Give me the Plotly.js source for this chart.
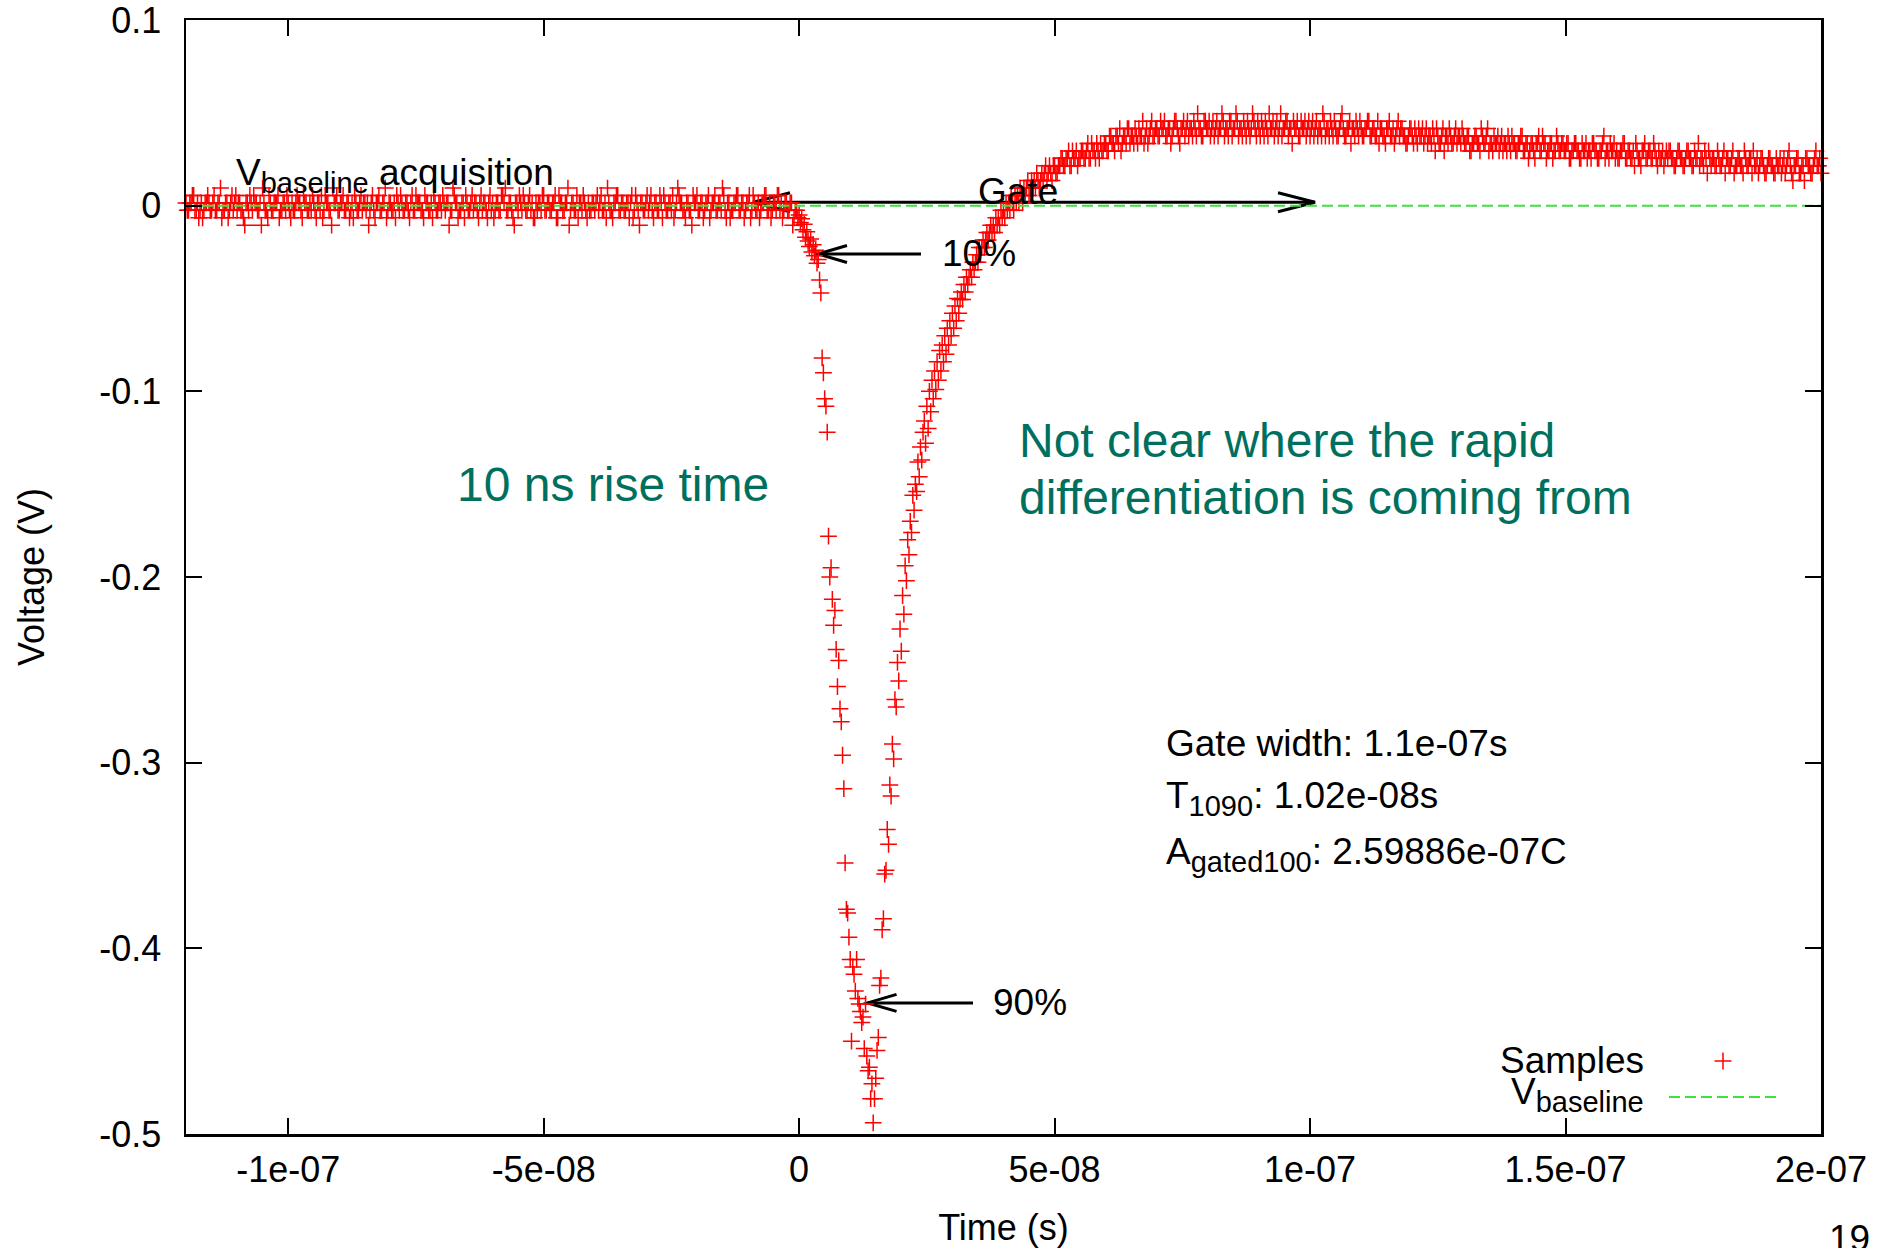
<!DOCTYPE html>
<html><head><meta charset="utf-8">
<script src="https://cdn.plot.ly/plotly-3.0.1.min.js"></script>
<style>html,body{margin:0;padding:0;background:#fff;}#chart{width:1894px;height:1248px;}</style>
</head><body><div id="chart"></div>
<script>
// ---- acquisition timing (seconds) ----
const preStart = -1.2e-7, preOddStart = -1.1975e-7, preStep = 5e-10;   // -120 ns ... -0.25 ns
const pulseStart = 0, pulseStep = 2.5e-10;                             // 0 ns ... 49.75 ns
const postStart = 5e-8, postOddStart = 5.025e-8, postStep = 5e-10;    // 50 ns ... 200 ns

// ---- samples (V) ----
const samplesPre = [
.0015,-.0025,.0015,.0055,-.0025,-.0065,.0015,-.0025,.0015,.0015,-.0025,.0055,-.0025,.0015,-.0065,-.0025,.0015,-.0025,.0055,.0015,
-.0025,.0015,-.0025,-.0105,.0015,.0055,-.0025,.0015,-.0025,.0015,.0095,-.0025,-.0065,.0015,-.0025,.0015,.0055,-.0025,.0015,-.0025,
.0015,-.0065,-.0025,.0015,.0015,-.0025,.0055,.0015,-.0025,-.0025,.0015,-.0065,.0015,.0055,-.0025,.0015,-.0025,-.0105,.0015,.0055,
-.0025,.0015,-.0025,.0015,-.0065,.0015,.0055,-.0025,.0015,-.0025,.0015,.0015,-.0025,.0055,-.0065,.0015,-.0025,.0015,.0095,-.0025,
.0015,-.0025,-.0065,.0015,.0055,-.0025,.0015,-.0025,.0015,-.0025,.0055,.0015,-.0025,-.0065,.0015,-.0025,.0015,.0055,-.0025,.0015,
-.0025,.0015,.0015,-.0105,-.0025,.0055,.0015,-.0025,.0015,-.0065,.0015,-.0025,.0055,.0015,-.0025,.0015,-.0025,.0015,-.0065,.0055,
.0015,-.0025,.0015,-.0025,.0055,.0095,-.0025,.0015,-.0065,.0015,-.0025,.0015,.0055,-.0025,.0015,-.0025,-.0065,.0015,.0015,-.0025,
.0055,-.0025,.0015,-.0025,.0015,-.0065,.0055,.0015,-.0025,.0015,-.0105,.0015,-.0025,.0055,.0015,-.0025,.0015,-.0065,-.0025,.0015,
-.0025,.0055,.0015,-.0025,.0015,.0095,-.0025,-.0065,.0015,.0055,-.0025,.0015,-.0025,.0015,.0015,-.0065,.0055,-.0025,.0015,-.0025,
.0015,-.0025,.0055,-.0065,.0015,-.0025,.0015,.0055,-.0025,.0015,-.0025,-.0065,.0015,.0055,.0015,-.0025,.0015,-.0025,-.0105,.0015,
.0055,-.0025,.0015,-.0025,.0015,-.0065,.0015,.0055,-.0025,.0015,.0095,-.0025,.0015,-.0065,-.0025,.0015,.0055,-.0025,.0015,-.0025,
.0015,-.0065,.0055,-.0025,.0015,-.0025,.0015,.0055,-.0025,-.0065,.0015,-.0025,.0055,.0015,-.0025,.0015,-.0025,.0015,-.0065,-.0025
];
const samplesPreOdd = [
-.0025,.0015,.0055,-.0025,.0015,-.0025,-.0065,.0015,.0055,-.0025,.0015,-.0025,.0015,.0095,-.0025,.0015,-.0065,.0015,-.0025,.0055,
.0015,-.0025,-.0065,.0015,-.0025,.0015,.0055,.0015,-.0025,-.0105,.0015,-.0025,.0055,-.0025,.0015,.0015,-.0065,-.0025,.0015,.0055,
-.0025,.0015,-.0025,.0055,.0015,-.0065,.0015,-.0025,.0015,.0055,-.0025,.0015,-.0025,-.0065,.0055,.0015,-.0025,.0095,.0015,-.0025,
.0015,.0055,-.0025,.0015,-.0025,-.0065,.0015,-.0025,.0055,.0015,-.0025,-.0105,.0015,-.0025,.0015,.0055,-.0025,.0015,-.0065,.0015,
-.0025,.0015,.0055,-.0025,.0015,-.0025,.0015,-.0065,.0055,-.0025,.0015,.0015,-.0025,.0055,.0015,-.0025,-.0065,.0015,-.0025,.0015,
.0055,-.0025,.0015,-.0025,.0095,.0015,-.0065,-.0025,.0015,.0055,-.0025,.0015,-.0025,.0015,-.0065,.0055,.0015,-.0025,.0015,-.0025,
-.0065,.0015,-.0025,.0055,.0015,-.0025,.0015,-.0025,-.0105,.0015,.0055,-.0025,.0015,-.0025,.0055,.0015,-.0065,-.0025,.0015,.0055,
-.0025,.0015,-.0025,.0015,.0055,-.0065,.0015,-.0025,.0015,.0095,-.0025,.0015,-.0025,-.0065,.0015,.0055,-.0025,.0015,-.0025,.0015,
.0015,-.0025,.0055,-.0025,-.0065,.0015,-.0025,.0015,.0055,-.0025,.0015,-.0025,.0015,-.0065,.0055,-.0025,.0015,-.0105,.0015,-.0025,
.0055,.0015,-.0025,.0015,-.0025,.0055,-.0065,.0015,-.0025,.0015,.0055,-.0025,.0095,.0015,-.0025,-.0065,.0015,-.0025,.0055,.0015,
-.0025,.0015,-.0065,.0015,.0055,-.0025,.0015,-.0025,.0015,-.0025,.0055,-.0065,.0015,-.0025,.0015,.0055,-.0025,.0015,-.0065,.0015,
.0055,-.0025,.0015,-.0025,-.0065,.0015,.0055,-.0025,.0015,-.0025,.0015,.0055,-.0025,-.0065,.0015,-.0025,.0015,-.0105,-.0025,-.0065
];
const samplesPulse = [
-.005,-.009,-.007,-.013,-.010,-.017,-.014,-.019,-.022,-.018,-.025,-.021,-.027,-.024,-.031,-.029,-.040,-.047,
-.082,-.090,-.104,-.108,-.122,
-.178,-.200,-.195,-.212,-.226,-.218,-.239,-.259,-.245,-.271,-.278,-.296,
-.314,-.354,-.379,
-.381,-.394,-.406,-.450,-.410,-.414,-.423,-.406,-.427,-.430,-.434,-.440,-.437,-.454,-.430,-.458,-.466,-.464,-.481,-.473,
-.494,-.481,-.470,-.455,
-.448,-.420,-.416,-.390,-.384,-.360,-.358,-.336,-.344,-.312,-.318,-.290,-.298,-.266,-.270,-.246,-.256,-.228,
-.240,-.210,-.220,-.194,-.202,-.180,-.188,-.170,-.176,-.156,-.164,-.150,-.154,-.138,-.146,-.130,-.137,-.122,
-.116,-.128,-.108,-.120,-.100,-.111,-.094,-.104,-.089,-.099,-.084,-.094,-.078,-.089,-.075,-.084,-.070,-.080,-.066,-.075,
-.062,-.070,-.058,-.066,-.054,-.062,-.050,-.058,
-.0505,-.0465,-.0505,-.0425,-.0465,-.0385,-.0425,-.0385,-.0345,-.0385,
-.0305,-.0345,-.0305,-.0265,-.0305,-.0225,-.0265,-.0225,-.0185,-.0225,
-.0185,-.0145,-.0185,-.0145,-.0105,-.0145,-.0105,-.0145,-.0065,-.0105,
-.0065,-.0105,-.0025,-.0065,-.0025,-.0065,.0015,-.0025,.0015,-.0025,
.0055,.0015,-.0025,.0055,.0015,.0055,.0015,.0095,.0055,.0015,
.0095,.0055,.0095,.0135,.0055,.0095,.0135,.0095,.0135,.0095,
.0175,.0135,.0095,.0135,.0175,.0135,.0175,.0215,.0135,.0175,
.0215,.0175,.0135,.0215
];
const samplesPost = [
.0215,.0175,.0215,.0255,.0215,.0255,.0215,.0295,.0255,.0215,.0255,.0295,.0255,.0335,.0255,.0295,.0255,.0295,.0335,.0295,
.0335,.0295,.0375,.0335,.0375,.0335,.0295,.0375,.0335,.0415,.0375,.0335,.0375,.0415,.0375,.0335,.0415,.0375,.0455,.0375,
.0415,.0375,.0415,.0455,.0375,.0415,.0375,.0455,.0415,.0335,.0415,.0375,.0455,.0415,.0375,.0415,.0495,.0415,.0375,.0455,
.0415,.0375,.0455,.0415,.0375,.0415,.0455,.0415,.0375,.0455,.0415,.0495,.0375,.0415,.0455,.0375,.0415,.0415,.0455,.0375,
.0415,.0455,.0375,.0415,.0495,.0415,.0375,.0455,.0415,.0375,.0415,.0455,.0415,.0335,.0415,.0455,.0375,.0415,.0455,.0415,
.0375,.0455,.0415,.0375,.0415,.0495,.0375,.0415,.0455,.0375,.0415,.0375,.0455,.0415,.0375,.0415,.0335,.0415,.0455,.0375,
.0415,.0375,.0415,.0455,.0375,.0415,.0375,.0335,.0415,.0375,.0415,.0455,.0375,.0335,.0415,.0375,.0415,.0375,.0335,.0415,
.0375,.0415,.0335,.0375,.0415,.0375,.0335,.0375,.0415,.0295,.0375,.0335,.0415,.0375,.0335,.0375,.0335,.0415,.0375,.0335,
.0375,.0335,.0375,.0295,.0335,.0375,.0335,.0415,.0335,.0375,.0295,.0335,.0375,.0335,.0295,.0375,.0335,.0295,.0335,.0375,
.0335,.0295,.0335,.0375,.0295,.0335,.0295,.0335,.0255,.0335,.0295,.0375,.0335,.0295,.0335,.0255,.0295,.0335,.0295,.0335,
.0295,.0335,.0255,.0295,.0335,.0295,.0255,.0295,.0335,.0295,.0255,.0335,.0295,.0255,.0295,.0375,.0295,.0255,.0295,.0335,
.0295,.0255,.0295,.0335,.0255,.0295,.0255,.0215,.0295,.0255,.0295,.0335,.0255,.0295,.0255,.0295,.0215,.0255,.0295,.0255,
.0255,.0295,.0255,.0215,.0295,.0255,.0215,.0255,.0295,.0255,.0215,.0255,.0335,.0255,.0215,.0255,.0295,.0215,.0255,.0215,
.0255,.0215,.0295,.0255,.0215,.0255,.0175,.0215,.0255,.0215,.0295,.0215,.0255,.0175,.0215,.0255,.0215,.0255,.0175,.0215,
.0255,.0215,.0175,.0215,.0255,.0215,.0175,.0255,.0215,.0135,.0215,.0255,.0175,.0215,.0255,.0215,.0175,.0215,.0295,.0215,
.0175
];
const samplesPostOdd = [
.0175,.0215,.0255,.0215,.0255,.0295,.0215,.0255,.0295,.0255,.0295,.0255,.0295,.0255,.0335,.0295,.0335,.0255,.0295,.0335,
.0295,.0375,.0335,.0295,.0375,.0415,.0335,.0375,.0415,.0335,.0375,.0415,.0335,.0375,.0455,.0375,.0335,.0415,.0375,.0415,
.0375,.0455,.0415,.0375,.0415,.0335,.0415,.0455,.0375,.0415,.0455,.0415,.0375,.0415,.0455,.0375,.0415,.0375,.0455,.0415,
.0455,.0415,.0375,.0455,.0415,.0495,.0375,.0415,.0455,.0375,.0415,.0455,.0415,.0375,.0415,.0455,.0375,.0495,.0415,.0455,
.0375,.0415,.0455,.0375,.0415,.0455,.0415,.0375,.0495,.0415,.0455,.0375,.0415,.0455,.0415,.0375,.0455,.0415,.0375,.0455,
.0415,.0375,.0455,.0415,.0375,.0455,.0415,.0375,.0415,.0455,.0375,.0415,.0495,.0375,.0415,.0455,.0415,.0375,.0415,.0455,
.0375,.0415,.0455,.0375,.0415,.0375,.0455,.0415,.0375,.0335,.0415,.0375,.0415,.0375,.0455,.0415,.0375,.0335,.0375,.0415,
.0335,.0375,.0415,.0375,.0335,.0415,.0375,.0335,.0375,.0415,.0335,.0375,.0295,.0375,.0415,.0335,.0375,.0335,.0375,.0415,
.0335,.0375,.0295,.0335,.0375,.0335,.0295,.0375,.0335,.0415,.0335,.0295,.0335,.0375,.0335,.0295,.0335,.0375,.0295,.0335,
.0295,.0335,.0375,.0295,.0335,.0255,.0335,.0295,.0335,.0375,.0295,.0335,.0255,.0295,.0335,.0295,.0375,.0295,.0335,.0295,
.0335,.0255,.0295,.0335,.0295,.0255,.0335,.0295,.0255,.0295,.0335,.0295,.0255,.0295,.0335,.0255,.0295,.0335,.0295,.0255,
.0255,.0295,.0335,.0255,.0295,.0255,.0295,.0335,.0255,.0215,.0295,.0255,.0295,.0255,.0335,.0255,.0295,.0255,.0215,.0295,
.0295,.0255,.0215,.0255,.0295,.0255,.0215,.0295,.0255,.0215,.0295,.0255,.0215,.0255,.0295,.0175,.0255,.0255,.0215,.0295,
.0215,.0255,.0175,.0255,.0215,.0295,.0215,.0255,.0215,.0175,.0255,.0215,.0255,.0295,.0215,.0175,.0255,.0215,.0175,.0255,
.0215,.0175,.0255,.0215,.0175,.0255,.0215,.0295,.0175,.0215,.0255,.0175,.0215,.0135,.0255,.0215,.0175,.0255,.0215,.0255
];

// ---- baseline ----
const baselineTime = [-1.2e-7, 2e-7];
const baselineVolt = [0, 0];

// ---- ticks ----
const xTickVals = [-1e-7, -5e-8, 0, 5e-8, 1e-7, 1.5e-7, 2e-7];
const xTickText = ['-1e-07', '-5e-08', '0', '5e-08', '1e-07', '1.5e-07', '2e-07'];
const yTickVals = [0.1, 0, -0.1, -0.2, -0.3, -0.4, -0.5];
const yTickText = ['0.1', '0', '-0.1', '-0.2', '-0.3', '-0.4', '-0.5'];

// ---- annotation values ----
const gateEnd = 1.0097e-7, gateWidth = 1.1e-7, gateLevel = 0.0018;
const t10 = 3.69e-9, v10 = -0.026, t10tail = 2.385e-8;
const t90 = 1.339e-8, v90 = -0.4294, t90tail = 3.403e-8;
const SUB = s => `<sub><span style="font-size:29px">${s}</span></sub>`;
const statLines = ['Gate width: 1.1e-07s', 'T' + SUB('1090') + ': 1.02e-08s', 'A' + SUB('gated100') + ': 2.59886e-07C'];
const statV = [-0.2897, -0.3193, -0.3495];

const FONT = 'Liberation Sans, Arial, Helvetica, sans-serif';
const RED = '#ff0000', GREEN = '#40e040', TEAL = '#00705e';

const markerStyle = {symbol: 'cross-thin', size: 12, color: RED, line: {color: RED, width: 1.5}};
function sampleTrace(y, x0, dx) {
  return {type: 'scatter', mode: 'markers', y: y, x0: x0, dx: dx, marker: markerStyle,
          cliponaxis: false, hoverinfo: 'skip', showlegend: false};
}
const traces = [
  sampleTrace(samplesPre, preStart, preStep),
  sampleTrace(samplesPreOdd, preOddStart, preStep),
  sampleTrace(samplesPulse, pulseStart, pulseStep),
  sampleTrace(samplesPost, postStart, postStep),
  sampleTrace(samplesPostOdd, postOddStart, postStep),
  {type: 'scatter', mode: 'lines', x: baselineTime, y: baselineVolt,
   line: {color: GREEN, width: 2, dash: '11px,5px'}, hoverinfo: 'skip', showlegend: false}
];

function head(t, v, dir, len, half) {
  const L = dir * len;
  return {type: 'path', xref: 'x', yref: 'y', xsizemode: 'pixel', ysizemode: 'pixel',
          xanchor: t, yanchor: v, path: `M${L},${half}L0,0L${L},${-half}`,
          line: {color: '#000', width: 3}, fillcolor: 'rgba(0,0,0,0)', layer: 'below'};
}
function shaft(t0, t1, v) {
  return {type: 'line', xref: 'x', yref: 'y', x0: t0, x1: t1, y0: v, y1: v,
          line: {color: '#000', width: 3}, layer: 'below'};
}
const gateStart = gateEnd - gateWidth;
const shapes = [
  shaft(gateStart, gateEnd, gateLevel), head(gateEnd, gateLevel, -1, 37, 9.5), head(gateStart, gateLevel, 1, 37, 9.5),
  shaft(t10tail, t10, v10), head(t10, v10, 1, 29, 8.5),
  shaft(t90tail, t90, v90), head(t90, v90, 1, 29, 8.5),
  // legend keys
  {type: 'path', xref: 'paper', yref: 'paper', xsizemode: 'pixel', ysizemode: 'pixel',
   xanchor: 0.94006, yanchor: 0.0655, path: 'M-8.5,0H8.5M0,-8.5V8.5', line: {color: RED, width: 1.5}},
  {type: 'line', xref: 'paper', yref: 'paper', x0: 0.90703, x1: 0.97248, y0: 0.0332, y1: 0.0332,
   line: {color: GREEN, width: 2, dash: '11px,5px'}}
];

function txt(text, x, y, opts) {
  return Object.assign({text: text, x: x, y: y, xref: 'x', yref: 'y', showarrow: false,
    xanchor: 'left', yanchor: 'middle', font: {family: FONT, size: 37, color: '#000'}}, opts || {});
}
const big = {family: FONT, size: 48, color: TEAL};
const annotations = [
  txt('V' + SUB('baseline') + ' acquisition', -1.1052e-7, 0.0162),
  txt('Gate', 4.284e-8, 0.0079, {xanchor: 'center'}),
  txt('10%', 2.765e-8, v10),
  txt('90%', 3.763e-8, v90),
  txt(statLines[0], 7.148e-8, statV[0]),
  txt(statLines[1], 7.148e-8, statV[1]),
  txt(statLines[2], 7.148e-8, statV[2]),
  txt('10 ns rise time', -6.735e-8, -0.1504, {font: big}),
  txt('Not clear where the rapid', 4.264e-8, -0.1267, {font: big}),
  txt('differentiation is coming from', 4.264e-8, -0.1574, {font: big}),
  txt('Samples', 0.89297, 0.06598, {xref: 'paper', yref: 'paper', xanchor: 'right'}),
  txt('V' + SUB('baseline'), 0.89297, 0.03501, {xref: 'paper', yref: 'paper', xanchor: 'right'}),
  txt('19', 1.0177, -0.0934, {xref: 'paper', yref: 'paper', xanchor: 'center'})
];

const axisCommon = {ticks: 'inside', ticklen: 16, tickwidth: 2, tickcolor: '#000', showline: true,
  linewidth: 2.5, linecolor: '#000', mirror: 'ticks', showgrid: false, zeroline: false,
  automargin: false, ticklabeloverflow: 'allow', tickfont: {family: FONT, size: 36, color: '#000'}};

const layout = {
  width: 1894, height: 1248,
  margin: {l: 186, r: 73, t: 20, b: 114, pad: 0},
  paper_bgcolor: '#fff', plot_bgcolor: '#fff',
  showlegend: false,
  font: {family: FONT, size: 36, color: '#000'},
  xaxis: Object.assign({}, axisCommon, {range: [-1.2e-7, 2.0000001e-7], tickmode: 'array', tickvals: xTickVals,
    ticktext: xTickText, ticklabelstandoff: 2,
    title: {text: 'Time (s)', font: {family: FONT, size: 36, color: '#000'}, standoff: 28}}),
  yaxis: Object.assign({}, axisCommon, {range: [-0.5000001, 0.1000001], tickmode: 'array', tickvals: yTickVals,
    ticktext: yTickText, ticklabelstandoff: 15,
    title: {text: 'Voltage (V)', font: {family: FONT, size: 36, color: '#000'}, standoff: 44}}),
  shapes: shapes,
  annotations: annotations
};

Plotly.newPlot('chart', traces, layout, {staticPlot: true, displayModeBar: false});
</script>
</body></html>
